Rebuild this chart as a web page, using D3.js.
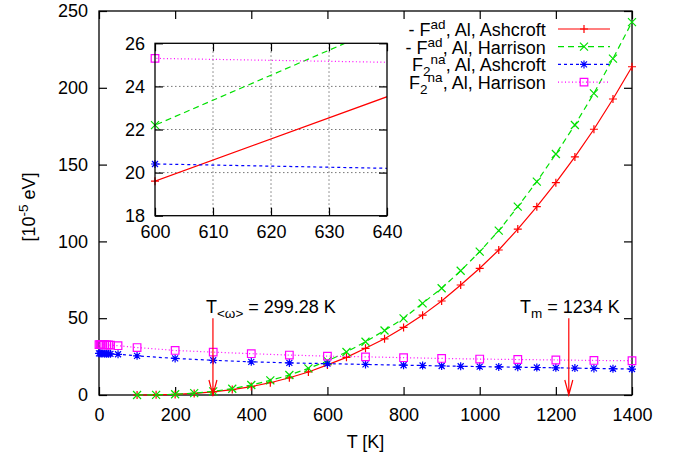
<!DOCTYPE html>
<html><head><meta charset="utf-8">
<script src="https://cdn.jsdelivr.net/npm/d3@7"></script>
<style>
body{margin:0;background:#fff}
text{font-family:"Liberation Sans",Arial,Helvetica,sans-serif;font-size:18px;fill:#000}
</style>
</head><body>
<svg id="c" width="681" height="457"></svg>
<script>
// ---------------- data ----------------
const tAd = [100,150,200,250,300,350,400,450,500,550,600,650,700,750,800,850,900,950,1000,1050,1100,1150,1200,1250,1300,1350,1400];
const fadAshcroft = [0.0,0.1,0.4,1.0,2.0,3.5,5.5,8.0,11.2,15.0,19.6,24.5,30.4,36.6,44.0,52.0,61.2,71.6,82.5,94.4,108.0,122.6,138.2,155.0,173.0,192.7,213.7];
const fadHarrison = [0.0,0.1,0.5,1.2,2.4,4.1,6.5,9.5,13.0,17.3,22.2,28.0,34.7,42.0,49.9,59.7,69.5,80.9,93.3,107.0,122.6,138.9,156.9,175.8,196.4,219.0,242.8];
const tNaAshcroft = [0,3,6,10,15,20,25,30,50,100,200,300,400,500,600,700,800,850,900,950,1000,1050,1100,1150,1200,1250,1300,1350,1400];
const f2naAshcroft = [27.1,27.1,27.0,27.0,26.9,26.9,26.8,26.8,26.5,25.5,23.8,22.6,21.6,20.9,20.4,19.9,19.4,19.2,18.9,18.7,18.5,18.3,18.1,17.9,17.7,17.5,17.3,17.1,16.9];
const tNaHarrison = [0,3,6,10,15,20,25,30,50,100,200,300,400,500,600,700,800,900,1000,1100,1200,1300,1400];
const f2naHarrison = [32.8,32.8,32.8,32.7,32.7,32.6,32.6,32.5,32.1,30.9,29.0,27.9,26.9,26.0,25.3,24.85,24.3,23.8,23.4,23.1,22.8,22.5,22.3];
const xTicks = [0,200,400,600,800,1000,1200,1400];
const yTicks = [0,50,100,150,200,250];
const insetXTicks = [600,610,620,630,640];
const insetYTicks = [18,20,22,24,26];
const arrowsT = [299.28, 1234];

const series = [
  {label:[["- F",0],["ad",1],[", Al, Ashcroft",0]], t:tAd, v:fadAshcroft, color:"#ff0000", dash:null, marker:"plus"},
  {label:[["- F",0],["ad",1],[", Al, Harrison",0]], t:tAd, v:fadHarrison, color:"#00e000", dash:"6,4", marker:"cross"},
  {label:[["F",0],["2",-1],["na",1],[", Al, Ashcroft",0]], t:tNaAshcroft, v:f2naAshcroft, color:"#0000ff", dash:"3,3", marker:"star"},
  {label:[["F",0],["2",-1],["na",1],[", Al, Harrison",0]], t:tNaHarrison, v:f2naHarrison, color:"#ff00ff", dash:"1,2.5", marker:"square"}
];

// ---------------- layout ----------------
const svg = d3.select("#c");
const M = {l:99, r:632, t:11, b:395};
const x = d3.scaleLinear().domain([0,1400]).range([M.l, M.r]);
const y = d3.scaleLinear().domain([0,250]).range([M.b, M.t]);
const I = {l:155, r:387, t:43.3, b:215.7};
const xi = d3.scaleLinear().domain([600,640]).range([I.l, I.r]);
const yi = d3.scaleLinear().domain([18,26]).range([I.b, I.t]);

function markerPath(type, s){
  const h = s;
  switch(type){
    case "plus": return `M${-h},0H${h}M0,${-h}V${h}`;
    case "cross": return `M${-h},${-h}L${h},${h}M${-h},${h}L${h},${-h}`;
    case "star": return `M${-h},0H${h}M0,${-h}V${h}M${-h*0.75},${-h*0.75}L${h*0.75},${h*0.75}M${-h*0.75},${h*0.75}L${h*0.75},${-h*0.75}`;
    case "square": return `M${-h},${-h}H${h}V${h}H${-h}Z`;
  }
}
const mSize = {plus:4, cross:4, star:4, square:3.8};

function drawAxes(g, xs, ys, xt, yt, xPad, yPad, tick){
  const [x0,x1] = xs.range(), [y0,y1] = ys.range();
  const ax = g.append("g").attr("transform",`translate(0,${y0})`)
    .call(d3.axisBottom(xs).tickValues(xt).tickSizeInner(-tick).tickSizeOuter(0).tickPadding(xPad).tickFormat(d3.format("d")));
  const ay = g.append("g").attr("transform",`translate(${x0},0)`)
    .call(d3.axisLeft(ys).tickValues(yt).tickSizeInner(-tick).tickSizeOuter(0).tickPadding(yPad).tickFormat(d3.format("d")));
  const at = g.append("g").attr("transform",`translate(0,${y1})`)
    .call(d3.axisTop(xs).tickValues(xt).tickSizeInner(-tick).tickSizeOuter(0).tickFormat(""));
  const ar = g.append("g").attr("transform",`translate(${x1},0)`)
    .call(d3.axisRight(ys).tickValues(yt).tickSizeInner(-tick).tickSizeOuter(0).tickFormat(""));
  [ax,ay,at,ar].forEach(a=>{
    a.select(".domain").remove();
    a.selectAll("line").attr("stroke","#000").attr("stroke-width",1.2);
    a.selectAll("text").attr("font-size",18).attr("font-family",null).attr("fill","#000");
  });
  g.append("rect").attr("x",x0).attr("y",y1).attr("width",x1-x0).attr("height",y0-y1)
    .attr("fill","none").attr("stroke","#000").attr("stroke-width",1.3);
}

// ---------------- main plot ----------------
const main = svg.append("g");
drawAxes(main, x, y, xTicks, yTicks, 13, 11, 8);

series.forEach(s=>{
  const pts = s.t.map((t,i)=>[t,s.v[i]]);
  main.append("path").attr("d", d3.line().x(d=>x(d[0])).y(d=>y(d[1]))(pts))
    .attr("fill","none").attr("stroke",s.color).attr("stroke-width",1.2)
    .attr("stroke-dasharray",s.dash);
  main.selectAll(null).data(pts).enter().append("path")
    .attr("d",markerPath(s.marker,mSize[s.marker]))
    .attr("transform",d=>`translate(${x(d[0])},${y(d[1])})`)
    .attr("fill","none").attr("stroke",s.color).attr("stroke-width",1.2);
});

// arrows + labels
arrowsT.forEach(t=>{
  const xa = x(t), ytop = y(50), ytip = y(0);
  main.append("path").attr("d",`M${xa},${ytop}V${ytip}M${xa-4},${ytip-15}L${xa},${ytip}L${xa+4},${ytip-15}`)
    .attr("fill","none").attr("stroke","#ff0000").attr("stroke-width",1.2);
});
const lab1 = main.append("text").attr("x",x(281)).attr("y",y(53.5));
lab1.append("tspan").text("T");
lab1.append("tspan").attr("font-size",13.5).attr("dy",5).text("<ω>");
lab1.append("tspan").attr("dy",-5).text(" = 299.28 K");
const lab2 = main.append("text").attr("x",x(1106)).attr("y",y(53.5));
lab2.append("tspan").text("T");
lab2.append("tspan").attr("font-size",13.5).attr("dy",5).text("m");
lab2.append("tspan").attr("dy",-5).text(" = 1234 K");

// axis titles
svg.append("text").attr("x",(M.l+M.r)/2).attr("y",448).attr("text-anchor","middle").text("T [K]");
const yl = svg.append("text").attr("transform","translate(35,207) rotate(-90)").attr("text-anchor","middle");
yl.append("tspan").text("[10");
yl.append("tspan").attr("font-size",13.5).attr("dy",-7).text("-5");
yl.append("tspan").attr("dy",7).text(" eV]");

// ---------------- legend ----------------
const legBase = [36, 53.7, 71.4, 89.1];
series.forEach((s,i)=>{
  const by = legBase[i];
  const t = svg.append("text").attr("x",545.7).attr("y",by).attr("text-anchor","end");
  let cur = 0;
  s.label.forEach(([txt,lvl])=>{
    const target = lvl===1 ? -7 : (lvl===-1 ? 5 : 0);
    const sp = t.append("tspan").attr("dy", target-cur).text(txt);
    if(lvl!==0) sp.attr("font-size",13.5);
    cur = target;
  });
  const ly = by-7;
  svg.append("line").attr("x1",558).attr("x2",610).attr("y1",ly).attr("y2",ly)
    .attr("stroke",s.color).attr("stroke-width",1.2).attr("stroke-dasharray",s.dash);
  svg.append("path").attr("d",markerPath(s.marker,mSize[s.marker]))
    .attr("transform",`translate(584,${ly})`).attr("fill","none").attr("stroke",s.color).attr("stroke-width",1.2);
});

// ---------------- inset ----------------
const ins = svg.append("g");
ins.append("rect").attr("x",I.l).attr("y",I.t).attr("width",I.r-I.l).attr("height",I.b-I.t).attr("fill","#fff");
insetXTicks.slice(1,-1).forEach(v=>{
  ins.append("line").attr("x1",xi(v)).attr("x2",xi(v)).attr("y1",I.t).attr("y2",I.b)
    .attr("stroke","#777").attr("stroke-width",1).attr("stroke-dasharray","1.5,2.5");
});
insetYTicks.slice(1,-1).forEach(v=>{
  ins.append("line").attr("y1",yi(v)).attr("y2",yi(v)).attr("x1",I.l).attr("x2",I.r)
    .attr("stroke","#777").attr("stroke-width",1).attr("stroke-dasharray","1.5,2.5");
});
svg.append("defs").append("clipPath").attr("id","insClip").append("rect")
  .attr("x",I.l).attr("y",I.t).attr("width",I.r-I.l).attr("height",I.b-I.t);
series.forEach(s=>{
  const pts = s.t.map((t,i)=>[t,s.v[i]]);
  ins.append("path").attr("clip-path","url(#insClip)")
    .attr("d", d3.line().x(d=>xi(d[0])).y(d=>yi(d[1]))(pts))
    .attr("fill","none").attr("stroke",s.color).attr("stroke-width",1.2)
    .attr("stroke-dasharray",s.dash);
  const inPts = pts.filter(d=>d[0]>=600 && d[0]<=640 && d[1]>=18 && d[1]<=26);
  ins.selectAll(null).data(inPts).enter().append("path")
    .attr("d",markerPath(s.marker,mSize[s.marker]))
    .attr("transform",d=>`translate(${xi(d[0])},${yi(d[1])})`)
    .attr("fill","none").attr("stroke",s.color).attr("stroke-width",1.2);
});
drawAxes(ins, xi, yi, insetXTicks, insetYTicks, 9.5, 10, 8);
</script>
</body></html>
